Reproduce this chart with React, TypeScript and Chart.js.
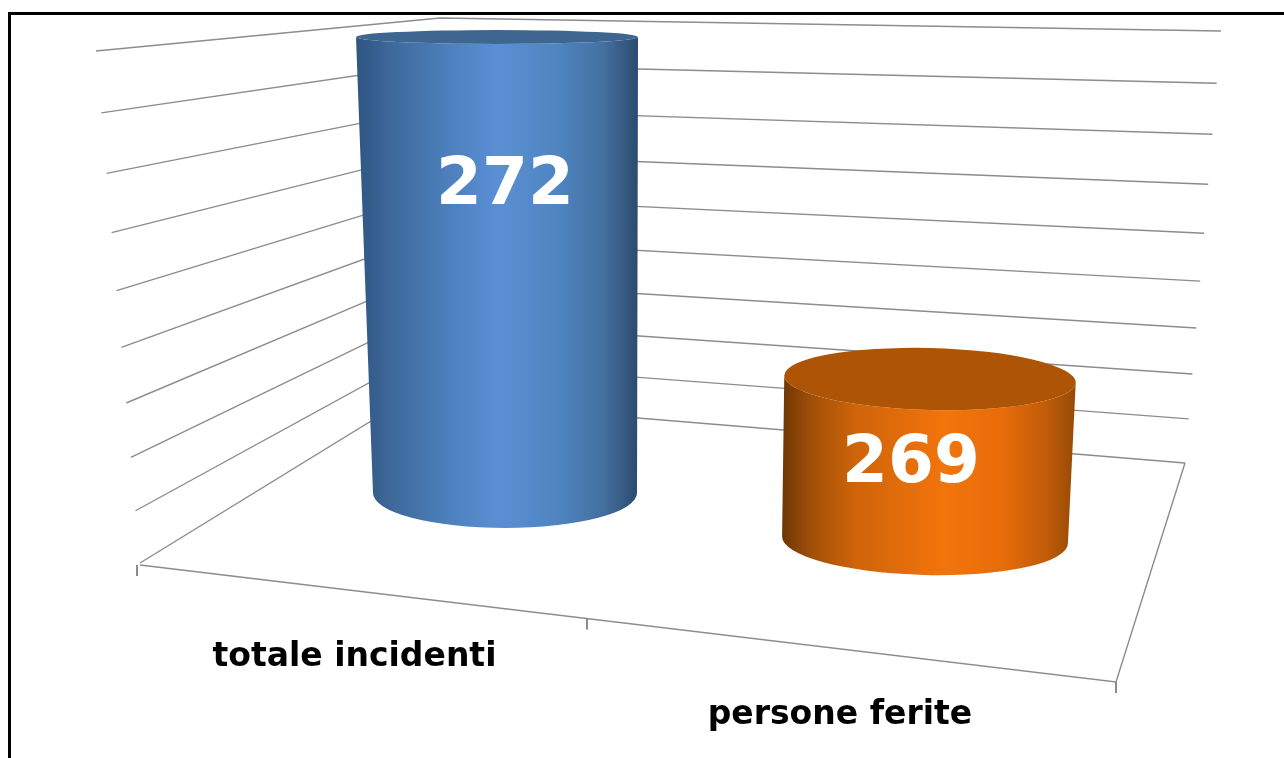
import React, { useEffect, useRef } from "react";
import { Chart, registerables } from "chart.js";

Chart.register(...registerables);

const categories = ["totale incidenti", "persone ferite"];
const values = [272, 269];
const axisMin = 267.5;
const axisMax = 272;
const axisStep = 0.5;

const sideStops = [
  [
    [0, "#2f5582"],
    [0.12, "#3d6899"],
    [0.3, "#4a7db8"],
    [0.5, "#5a8fd4"],
    [0.72, "#4f84c0"],
    [0.88, "#426f9f"],
    [1, "#2c4a6e"],
  ],
  [
    [0, "#6e3604"],
    [0.1, "#a04f08"],
    [0.25, "#cf640a"],
    [0.55, "#f2740c"],
    [0.75, "#e86c0a"],
    [0.9, "#c05c08"],
    [1, "#964a06"],
  ],
];
const topColors = ["#3f6690", "#ae5406"];

type Pt = [number, number];
const lerp = (a: Pt, b: Pt, t: number): Pt => [a[0] + (b[0] - a[0]) * t, a[1] + (b[1] - a[1]) * t];
const depthEase = (f: number) => f / (f + (1 - f) * 1.1);
const frontEase = (u: number) => (u * 0.845) / (u * 0.845 + 1 - u);

const FRONT_L: Pt = [140, 565];
const FRONT_R: Pt = [1116, 682];

const wallPlugin = {
  id: "wall3d",
  beforeDatasetsDraw(chart: any) {
    const { ctx, scales } = chart;
    const y = scales.y;
    const x = scales.x;
    const area = chart.chartArea;
    ctx.save();
    ctx.fillStyle = "#ffffff";
    ctx.fillRect(0, 0, chart.width, chart.height);
    // frame
    ctx.strokeStyle = "#000000";
    ctx.lineWidth = 3;
    ctx.strokeRect(9.5, 13.5, chart.width + 20, chart.height + 20);
    // walls from the value axis ticks
    ctx.strokeStyle = "#8c8c8c";
    ctx.lineWidth = 1.4;
    for (const tick of y.ticks) {
      const f = (area.bottom - y.getPixelForValue(tick.value)) / (area.bottom - area.top);
      const g = depthEase(f);
      const l = lerp([140, 563], [96, 51], g);
      const c = lerp([407, 399], [440, 18], g);
      const r = lerp([1185, 463], [1221, 31], g);
      ctx.beginPath();
      ctx.moveTo(l[0], l[1]);
      ctx.lineTo(c[0], c[1]);
      ctx.lineTo(r[0], r[1]);
      ctx.stroke();
    }
    // floor edges
    ctx.beginPath();
    ctx.moveTo(FRONT_L[0], FRONT_L[1]);
    ctx.lineTo(FRONT_R[0], FRONT_R[1]);
    ctx.lineTo(1185, 463);
    ctx.stroke();
    // category axis ticks and labels
    const n = categories.length;
    ctx.lineWidth = 2;
    for (let i = 0; i <= n; i++) {
      const p = lerp(FRONT_L, FRONT_R, frontEase(i / n));
      const px = i === 0 ? p[0] - 3 : p[0];
      ctx.beginPath();
      ctx.moveTo(px, p[1]);
      ctx.lineTo(px, p[1] + 11);
      ctx.stroke();
    }
    ctx.fillStyle = "#000000";
    ctx.font = "bold 33px 'DejaVu Sans'";
    ctx.textAlign = "center";
    ctx.textBaseline = "middle";
    categories.forEach((label, i) => {
      const u = (x.getPixelForValue(i) - area.left) / (area.right - area.left);
      const p = lerp(FRONT_L, FRONT_R, frontEase(u));
      ctx.fillText(label, p[0], p[1] + 67);
    });
    ctx.restore();
  },
  afterDatasetsDraw(chart: any) {
    const { ctx } = chart;
    const area = chart.chartArea;
    const meta = chart.getDatasetMeta(0);
    meta.data.forEach((bar: any, i: number) => {
      const u = (bar.x - area.left) / (area.right - area.left);
      const s = (u - 0.25) * 2; // 0 for first category, 1 for second
      const f = (area.bottom - bar.y) / (area.bottom - area.top);
      const g = depthEase(f);
      const baseX = bar.x;
      const baseY = bar.base + 3 + 47 * s;
      const topX = bar.x + g * (-8 + 24 * s);
      const topY = baseY - g * (456 + 59 * s);
      const rxBase = (bar.width / 2) * (1 + 0.083 * s);
      const rxTop = rxBase + 9 * g;
      const ryBase = 35;
      const ryTop = 41.9 - 34.9 * g;
      const rot = 0.025 * s;
      const x0 = Math.min(topX - rxTop, baseX - rxBase);
      const x1 = Math.max(topX + rxTop, baseX + rxBase);
      const grad = ctx.createLinearGradient(x0, 0, x1, 0);
      sideStops[i].forEach(([o, c]: any) => grad.addColorStop(o, c));
      ctx.save();
      ctx.fillStyle = grad;
      ctx.beginPath();
      ctx.ellipse(baseX, baseY, rxBase, ryBase, rot, 0, Math.PI, false);
      ctx.ellipse(topX, topY, rxTop, ryTop, rot, Math.PI, 0, true);
      ctx.closePath();
      ctx.fill();
      ctx.fillStyle = topColors[i];
      ctx.beginPath();
      ctx.ellipse(topX, topY, rxTop, ryTop, rot, 0, Math.PI * 2);
      ctx.fill();
      // value label
      ctx.fillStyle = "#ffffff";
      ctx.font = "bold 66px 'DejaVu Sans'";
      ctx.textAlign = "center";
      ctx.textBaseline = "middle";
      ctx.fillText(String(values[i]), bar.x - 14 * s, topY + 86 + 92.4 * (g - 0.3125));
      ctx.restore();
    });
  },
};

export default function App() {
  const ref = useRef<HTMLCanvasElement>(null);
  useEffect(() => {
    if (!ref.current) return;
    const chart = new Chart(ref.current, {
      type: "bar",
      data: {
        labels: categories,
        datasets: [
          {
            data: values,
            base: axisMin,
            backgroundColor: "transparent",
            borderWidth: 0,
            categoryPercentage: 1,
            barPercentage: 0.6286,
          },
        ],
      },
      options: {
        responsive: false,
        animation: false,
        layout: { padding: { left: 295, right: 149, top: 40, bottom: 268 } },
        plugins: { legend: { display: false }, title: { display: false }, tooltip: { enabled: false } },
        scales: {
          x: { display: false },
          y: {
            display: false,
            min: axisMin,
            max: axisMax,
            ticks: { stepSize: axisStep },
          },
        },
      },
      plugins: [wallPlugin],
    });
    return () => chart.destroy();
  }, []);
  return (
    <canvas
      ref={ref}
      width={1284}
      height={758}
      style={{ position: "fixed", left: 0, top: 0, width: 1284, height: 758, display: "block" }}
    />
  );
}
